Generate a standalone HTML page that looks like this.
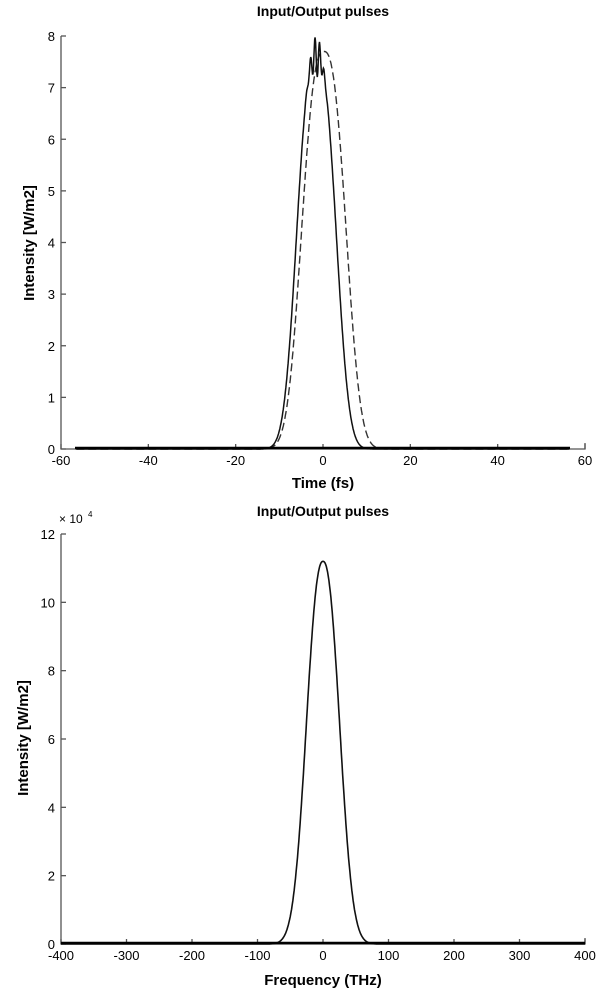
<!DOCTYPE html>
<html><head><meta charset="utf-8"><style>
html,body{margin:0;padding:0;background:#fff;}
svg{display:block;font-family:"Liberation Sans",Arial,sans-serif;}
</style></head><body>
<svg id="s" width="606" height="997" viewBox="0 0 606 997" xmlns="http://www.w3.org/2000/svg">
<g id="g"></g>
</svg>
<script>
var g=document.getElementById('g');var h='';
function X(v,a,b){return 61+(v-a)/(b-a)*524;}
function sg(x,hw,p){return Math.exp(-Math.LN2*Math.pow(Math.abs(x)/hw,p));}
var T0=449,T8=36;function ty(v){return T0-(T0-T8)*v/8;}
h+='<path d="M61 '+T8+' V'+T0+' H585 V'+(T0-6)+'" fill="none" stroke="#555" stroke-width="1.3"/>';
for(var i=0;i<=8;i++){var y=ty(i);h+='<line x1="61" x2="66" y1="'+y+'" y2="'+y+'" stroke="#555" stroke-width="1.3"/>';h+='<text x="55" y="'+(y+5)+'" font-size="13" text-anchor="end">'+i+'</text>';}
for(var t=-60;t<=60;t+=20){var x=X(t,-60,60);h+='<line x1="'+x+'" x2="'+x+'" y1="'+T0+'" y2="'+(T0-5)+'" stroke="#555" stroke-width="1.3"/>';h+='<text x="'+x+'" y="'+(T0+16)+'" font-size="13" text-anchor="middle">'+t+'</text>';}
h+='<text x="323" y="16" font-size="14" font-weight="bold" text-anchor="middle">Input/Output pulses</text>';
h+='<text x="323" y="488" font-size="15" font-weight="bold" text-anchor="middle">Time (fs)</text>';
h+='<text transform="translate(34 243) rotate(-90)" font-size="15" font-weight="bold" text-anchor="middle">Intensity [W/m2]</text>';
var p='',q='';
for(var t=-56.5;t<=56.5;t+=0.1){var v=7.6*sg(t+1.5,4.8,2.6);
 if(Math.abs(t+1.5)<3)v+=0.4*Math.sin(t*6)*Math.exp(-Math.pow((t+1.5)/1.5,2));
 v=Math.min(v,8);p+=(p?'L':'M')+X(t,-60,60).toFixed(1)+' '+ty(v).toFixed(1);
 var w=7.7*sg(t-0.2,5.4,2.6);q+=(q?'L':'M')+X(t,-60,60).toFixed(1)+' '+ty(w).toFixed(1);}
h+='<path d="'+q+'" fill="none" stroke="#333" stroke-width="1.4" stroke-dasharray="8,4"/>';
h+='<path d="'+p+'" fill="none" stroke="#111" stroke-width="1.5"/>';
h+='<line x1="75" x2="570" y1="'+(T0-1)+'" y2="'+(T0-1)+'" stroke="#000" stroke-width="2.5"/>';
var B0=944,B12=534;function by(v){return B0-(B0-B12)*v/12;}
h+='<path d="M61 '+B12+' V'+B0+' H585 V'+(B0-6)+'" fill="none" stroke="#555" stroke-width="1.3"/>';
for(var i=0;i<=12;i+=2){var y=by(i);h+='<line x1="61" x2="66" y1="'+y+'" y2="'+y+'" stroke="#555" stroke-width="1.3"/>';h+='<text x="55" y="'+(y+5)+'" font-size="13" text-anchor="end">'+i+'</text>';}
h+='<text x="59" y="523" font-size="12">× 10</text><text x="88" y="517" font-size="8">4</text>';
for(var f=-400;f<=400;f+=100){var x=X(f,-400,400);h+='<line x1="'+x+'" x2="'+x+'" y1="'+B0+'" y2="'+(B0-5)+'" stroke="#555" stroke-width="1.3"/>';h+='<text x="'+x+'" y="'+(B0+16)+'" font-size="13" text-anchor="middle">'+f+'</text>';}
h+='<text x="323" y="516" font-size="14" font-weight="bold" text-anchor="middle">Input/Output pulses</text>';
h+='<text x="323" y="985" font-size="15" font-weight="bold" text-anchor="middle">Frequency (THz)</text>';
h+='<text transform="translate(28 738) rotate(-90)" font-size="15" font-weight="bold" text-anchor="middle">Intensity [W/m2]</text>';
var r='';for(var f=-400;f<=400;f+=1){var v=11.2*sg(f,28,2.3);r+=(r?'L':'M')+X(f,-400,400).toFixed(1)+' '+by(v).toFixed(1);}
h+='<path d="'+r+'" fill="none" stroke="#111" stroke-width="1.6"/>';
h+='<line x1="61" x2="585" y1="'+(B0-1)+'" y2="'+(B0-1)+'" stroke="#000" stroke-width="2.5"/>';
g.innerHTML=h;
</script>
</body></html>
